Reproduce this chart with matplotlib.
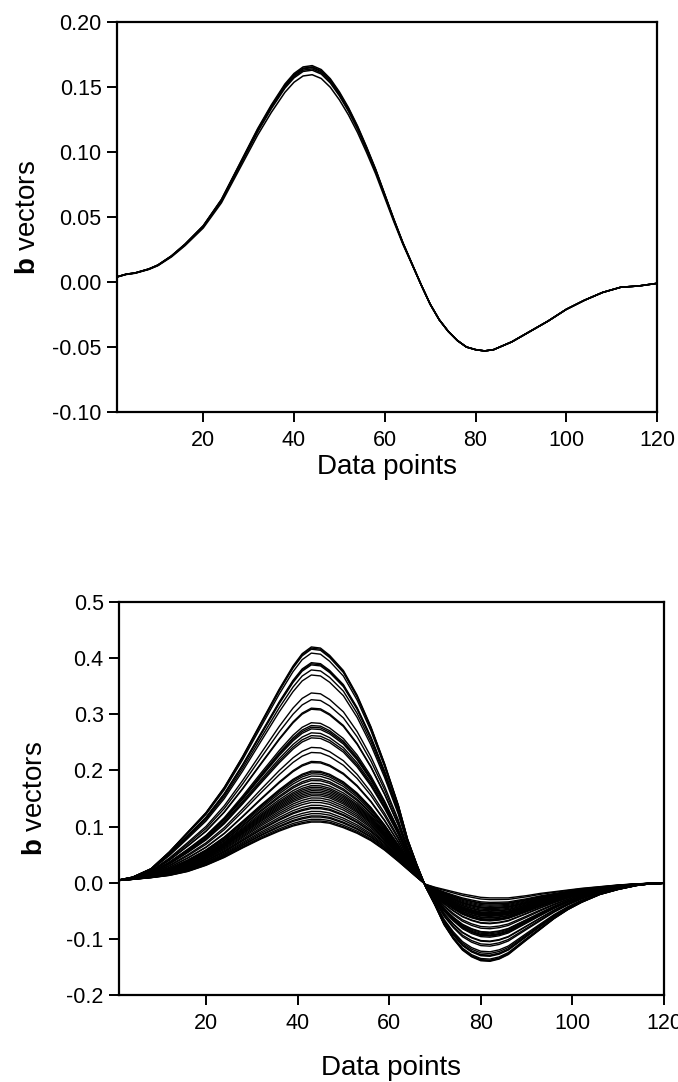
import numpy as np
import matplotlib.pyplot as plt

plt.rcParams['font.family'] = 'Liberation Sans'
plt.rcParams['mathtext.fontset'] = 'custom'
plt.rcParams['mathtext.rm'] = 'Liberation Sans'
plt.rcParams['mathtext.bf'] = 'Liberation Sans:bold'

# --- top panel: b vectors that nearly coincide ---
top_x = np.array([1, 3, 5, 8, 10, 13, 16, 20, 24, 28, 32, 35, 38, 40, 42, 44, 46, 48, 50, 52,
                  54, 56, 58, 60, 62, 64, 66, 68, 70, 72, 74, 76, 78, 80, 82, 84, 86, 88, 92,
                  96, 100, 104, 108, 112, 116, 120])
top_y = np.array([0.004, 0.006, 0.007, 0.010, 0.013, 0.020, 0.029, 0.043, 0.063, 0.090, 0.117,
                  0.135, 0.151, 0.159, 0.164, 0.165, 0.162, 0.155, 0.145, 0.133, 0.119, 0.103,
                  0.086, 0.067, 0.048, 0.030, 0.014, -0.002, -0.017, -0.029, -0.038, -0.045,
                  -0.050, -0.052, -0.053, -0.052, -0.049, -0.046, -0.038, -0.030, -0.021,
                  -0.014, -0.008, -0.004, -0.003, -0.001])
top_peaks = [0.1665, 0.1655, 0.165, 0.164, 0.163, 0.1595]

# --- bottom panel: envelope curves (largest and smallest b vector) ---
bot_x = np.array([1, 4, 8, 12, 16, 20, 24, 28, 32, 36, 39, 41, 43, 45, 47, 50, 53, 56, 59, 62,
                  64, 66, 68, 70, 72, 74, 76, 78, 80, 82, 84, 86, 88, 90, 93, 96, 99, 102, 106,
                  110, 114, 117, 120])
bot_hi = np.array([0.005, 0.010, 0.025, 0.055, 0.090, 0.125, 0.170, 0.225, 0.285, 0.345, 0.386,
                   0.408, 0.420, 0.418, 0.405, 0.378, 0.334, 0.278, 0.212, 0.138, 0.078, 0.033,
                   -0.008, -0.040, -0.075, -0.100, -0.120, -0.132, -0.139, -0.140, -0.136,
                   -0.128, -0.115, -0.102, -0.083, -0.064, -0.048, -0.035, -0.021, -0.012,
                   -0.005, -0.002, -0.001])
bot_lo = np.array([0.004, 0.006, 0.009, 0.013, 0.020, 0.031, 0.045, 0.062, 0.078, 0.092, 0.101,
                   0.105, 0.108, 0.108, 0.106, 0.098, 0.088, 0.075, 0.058, 0.038, 0.024, 0.010,
                   -0.003, -0.008, -0.012, -0.016, -0.020, -0.023, -0.026, -0.027, -0.027,
                   -0.027, -0.025, -0.023, -0.019, -0.016, -0.013, -0.010, -0.007, -0.004,
                   -0.002, -0.001, -0.001])

# peak (near point 43) and trough (near point 82) of each b vector
bot_peaks = [0.420, 0.418, 0.416, 0.409, 0.392, 0.390, 0.388, 0.379, 0.370, 0.338, 0.326, 0.311,
             0.309, 0.285, 0.280, 0.277, 0.274, 0.267, 0.262, 0.258, 0.241, 0.232, 0.216, 0.214,
             0.199, 0.197, 0.194, 0.190, 0.185, 0.182, 0.177, 0.173, 0.170, 0.167, 0.164, 0.161,
             0.158, 0.155, 0.151, 0.147, 0.143, 0.138, 0.134, 0.132, 0.127, 0.123, 0.119, 0.117,
             0.113, 0.110, 0.108]
bot_troughs = [-0.140, -0.139, -0.138, -0.136, -0.131, -0.130, -0.129, -0.126, -0.123, -0.113,
               -0.110, -0.105, -0.104, -0.097, -0.095, -0.094, -0.093, -0.091, -0.089, -0.088,
               -0.082, -0.079, -0.073, -0.072, -0.068, -0.067, -0.066, -0.065, -0.063, -0.062,
               -0.060, -0.059, -0.058, -0.057, -0.056, -0.055, -0.054, -0.053, -0.051, -0.050,
               -0.048, -0.046, -0.045, -0.044, -0.042, -0.040, -0.038, -0.037, -0.035, -0.030,
               -0.027]


def style_axes(ax, ylim, yticks, ylabels, xlabelpad, ylabelpad):
    ax.set_xlim(1, 120)
    ax.set_ylim(*ylim)
    ax.set_xticks([20, 40, 60, 80, 100, 120])
    ax.set_yticks(yticks)
    ax.set_yticklabels(ylabels)
    for s in ax.spines.values():
        s.set_linewidth(1.6)
    ax.tick_params(direction='out', length=7, width=1.4, labelsize=15.5)
    ax.tick_params(axis='x', pad=6)
    ax.tick_params(axis='y', pad=4)
    ax.set_xlabel('Data points', fontsize=20, labelpad=xlabelpad)
    ax.set_ylabel(r'$\mathbf{b}$ vectors', fontsize=20, labelpad=ylabelpad)


fig = plt.figure(figsize=(6.78, 10.82), dpi=100)

ax1 = fig.add_axes([0.1726, 0.6192, 0.7965, 0.3604])
for p in top_peaks:
    y = np.where(top_y > 0, top_y * p / top_y.max(), top_y)
    ax1.plot(top_x, y, color='black', lw=1.1)
style_axes(ax1, (-0.10, 0.20), np.arange(-0.10, 0.201, 0.05),
           ['-0.10', '-0.05', '0.00', '0.05', '0.10', '0.15', '0.20'], 2, 8)

ax2 = fig.add_axes([0.1755, 0.0804, 0.8038, 0.3632])
for p, t in zip(bot_peaks, bot_troughs):
    a = (p - bot_lo.max()) / (bot_hi.max() - bot_lo.max())
    b = (t - bot_lo.min()) / (bot_hi.min() - bot_lo.min())
    w = np.where(bot_hi > 0, a, b)
    ax2.plot(bot_x, bot_lo + (bot_hi - bot_lo) * w, color='black', lw=1.0)
style_axes(ax2, (-0.2, 0.5), np.arange(-0.2, 0.501, 0.1),
           ['-0.2', '-0.1', '0.0', '0.1', '0.2', '0.3', '0.4', '0.5'], 15, 13)

plt.savefig('out.png', dpi=100)
